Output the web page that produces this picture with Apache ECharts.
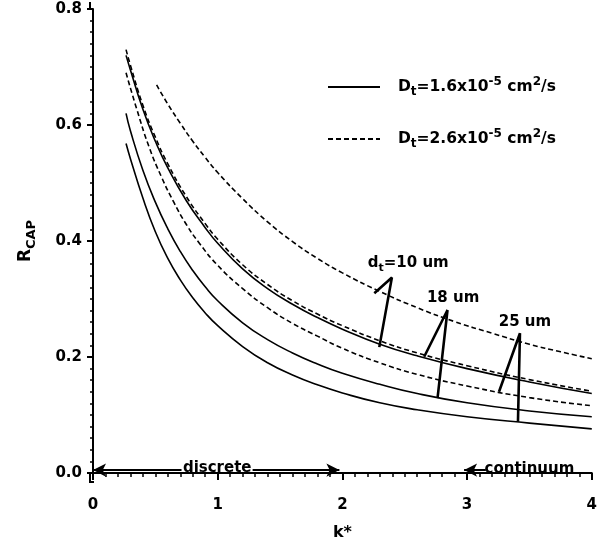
<!DOCTYPE html>
<html><head><meta charset="utf-8">
<script src="https://cdn.jsdelivr.net/npm/echarts@6/dist/echarts.min.js"></script>
<style>html,body{margin:0;padding:0;background:#fff}#c{width:600px;height:546px}</style>
</head><body><div id="c"></div>
<script>
// ---- data ----
const xTickLabels = ['0', '1', '2', '3', '4'];
const yTickLabels = ['0.0', '0.2', '0.4', '0.6', '0.8'];

const legendNames = ['Dt=1.6x10-5 cm2/s', 'Dt=2.6x10-5 cm2/s'];

// solid curves (Dt = 1.6e-5)
const solid10_k = [0.265, 0.3, 0.4, 0.5, 0.6, 0.75, 0.9, 1.0, 1.2, 1.4, 1.6, 1.8, 2.0, 2.3, 2.6, 3.0, 3.5, 4.0];
const solid10_r = [0.72, 0.695, 0.627, 0.572, 0.526, 0.469, 0.423, 0.396, 0.352, 0.318, 0.291, 0.268, 0.248, 0.222, 0.202, 0.18, 0.157, 0.137];
const solid18_k = [0.265, 0.3, 0.4, 0.5, 0.6, 0.7, 0.8, 0.9, 1.0, 1.2, 1.4, 1.6, 1.8, 2.0, 2.3, 2.6, 3.0, 3.5, 4.0];
const solid18_r = [0.62, 0.59, 0.522, 0.467, 0.421, 0.382, 0.349, 0.321, 0.297, 0.259, 0.23, 0.207, 0.188, 0.172, 0.153, 0.137, 0.121, 0.107, 0.097];
const solid25_k = [0.265, 0.3, 0.4, 0.5, 0.6, 0.7, 0.8, 0.9, 1.0, 1.2, 1.4, 1.6, 1.8, 2.0, 2.3, 2.6, 3.0, 3.5, 4.0];
const solid25_r = [0.568, 0.542, 0.474, 0.416, 0.37, 0.333, 0.302, 0.276, 0.254, 0.218, 0.19, 0.169, 0.152, 0.138, 0.121, 0.109, 0.097, 0.086, 0.076];

// dashed curves (Dt = 2.6e-5)
const dashed10_k = [0.51, 0.6, 0.7, 0.8, 0.9, 1.0, 1.2, 1.4, 1.6, 1.8, 2.0, 2.3, 2.6, 2.9, 3.2, 3.5, 3.75, 4.0];
const dashed10_r = [0.669, 0.636, 0.603, 0.572, 0.544, 0.518, 0.473, 0.433, 0.399, 0.37, 0.345, 0.313, 0.285, 0.261, 0.241, 0.222, 0.209, 0.197];
const dashed18_k = [0.265, 0.3, 0.4, 0.5, 0.6, 0.75, 0.9, 1.0, 1.2, 1.4, 1.6, 1.8, 2.0, 2.3, 2.6, 3.0, 3.5, 4.0];
const dashed18_r = [0.73, 0.703, 0.634, 0.579, 0.533, 0.476, 0.43, 0.403, 0.359, 0.325, 0.297, 0.274, 0.254, 0.228, 0.207, 0.185, 0.161, 0.141];
const dashed25_k = [0.265, 0.35, 0.45, 0.55, 0.65, 0.75, 0.85, 1.0, 1.2, 1.4, 1.6, 1.8, 2.0, 2.3, 2.6, 3.0, 3.5, 4.0];
const dashed25_r = [0.69, 0.628, 0.562, 0.51, 0.466, 0.428, 0.397, 0.358, 0.318, 0.285, 0.258, 0.236, 0.215, 0.19, 0.17, 0.15, 0.13, 0.116];

// annotation pointers (left branch end, apex, main end)
const arrow10_k = [2.256, 2.397, 2.296];
const arrow10_r = [0.31, 0.337, 0.217];
const arrow18_k = [2.656, 2.843, 2.763];
const arrow18_r = [0.2005, 0.281, 0.129];
const arrow25_k = [3.256, 3.424, 3.408];
const arrow25_r = [0.14, 0.241, 0.0885];

// annotation texts and their anchor (data units)
const annoText = ['dt=10 um', '18 um', '25 um', 'discrete', 'continuum'];
const annoK = [2.528, 2.888, 3.464, 0.996, 3.5];
const annoR = [0.362, 0.302, 0.261, 0.009, 0.007];

// regime arrows: tail -> head (k), at level regimeR
const regimeTail = [0.71, 1.28, 3.15, 3.86];
const regimeHead = [0.0, 1.976, 2.976, 4.04];
const regimeR = 0.005;

// ---- chart ----
const FONT = 'DejaVu Sans';
const pairs = (k, r) => k.map((x, i) => [x, r[i]]);
const chart = echarts.init(document.getElementById('c'), null, {renderer: 'canvas'});

function curve(name, k, r, dashed) {
  return {
    type: 'line', name: name, data: pairs(k, r), symbol: 'none',
    smooth: 0.5, silent: true,
    lineStyle: {color: '#000', width: 1.6, type: dashed ? [5, 3] : 'solid'},
    itemStyle: {color: '#000'}, z: 3
  };
}
function pointer(k, r) {
  return {
    type: 'line', data: pairs(k, r), symbol: 'none', silent: true,
    lineStyle: {color: '#000', width: 2.6}, z: 4
  };
}
const richText = {
  a: {fontFamily: FONT, fontWeight: 'bold', fontSize: 15.5, fill: '#000', color: '#000', lineHeight: 22},
  sub: {fontFamily: FONT, fontWeight: 'bold', fontSize: 12, fill: '#000', color: '#000', verticalAlign: 'bottom', lineHeight: 22},
  sup: {fontFamily: FONT, fontWeight: 'bold', fontSize: 12, fill: '#000', color: '#000', verticalAlign: 'top', lineHeight: 22},
  b: {fontFamily: FONT, fontWeight: 'bold', fontSize: 15, fill: '#000', color: '#000', lineHeight: 22},
  bs: {fontFamily: FONT, fontWeight: 'bold', fontSize: 11, fill: '#000', color: '#000', verticalAlign: 'bottom', lineHeight: 22}
};
function legendRich(name) {
  // "Dt=1.6x10-5 cm2/s" -> D_t = 1.6x10^-5 cm^2/s
  const m = name.match(/^D(t)=(.*x10)(-\d)( cm)(\d)(\/s)$/);
  return '{a|D}{sub|' + m[1] + '}{a|=' + m[2] + '}{sup|' + m[3] + '}{a|' + m[4] + '}{sup|' + m[5] + '}{a|' + m[6] + '}';
}
function annoRich(t) {
  const m = t.match(/^d(t)(=.*)$/);
  if (m) return '{b|d}{bs|' + m[1] + '}{b|' + m[2] + '}';
  return '{b|' + t + '}';
}

const regimeLines = regimeTail.map((t, i) => [{coord: [t, regimeR]}, {coord: [regimeHead[i], regimeR]}]);

const option = {
  animation: false,
  backgroundColor: '#fff',
  grid: {left: 93, right: 7, top: 9, bottom: 73, containLabel: false},
  legend: {
    orient: 'vertical', left: 322, top: 71,
    itemWidth: 52, itemHeight: 10, itemGap: 30,
    data: legendNames, selectedMode: false,
    formatter: legendRich,
    itemStyle: {color: 'rgba(0,0,0,0)', borderWidth: 0, opacity: 0},
    textStyle: {padding: [0, 0, 0, 13], rich: richText}
  },
  xAxis: {
    type: 'value', min: 0, max: 4, interval: 1, offset: 9,
    axisLine: {lineStyle: {color: '#000', width: 2}},
    axisTick: {length: 7, lineStyle: {color: '#000', width: 2}},
    minorTick: {show: true, splitNumber: 10, length: 4, lineStyle: {color: '#000', width: 1.5}},
    splitLine: {show: false},
    axisLabel: {margin: 16, color: '#000', fontFamily: FONT, fontWeight: 'bold', fontSize: 15,
      formatter: v => xTickLabels[Math.round(v)]},
    name: 'k*', nameLocation: 'middle', nameGap: 43,
    nameTextStyle: {color: '#000', fontFamily: FONT, fontWeight: 'bold', fontSize: 16}
  },
  yAxis: {
    type: 'value', min: 0, max: 0.8, interval: 0.2, offset: 3,
    axisLine: {lineStyle: {color: '#000', width: 2}},
    axisTick: {length: 6, lineStyle: {color: '#000', width: 2}},
    minorTick: {show: true, splitNumber: 10, length: 3, lineStyle: {color: '#000', width: 1.5}},
    splitLine: {show: false},
    axisLabel: {margin: 8, color: '#000', fontFamily: FONT, fontWeight: 'bold', fontSize: 15,
      formatter: v => yTickLabels[Math.round(v / 0.2)]},
    name: '{r|R}{s|CAP}', nameLocation: 'middle', nameRotate: 90, nameGap: 52,
    nameTextStyle: {rich: {
      r: {fontFamily: FONT, fontWeight: 'bold', fontSize: 17, color: '#000', lineHeight: 24},
      s: {fontFamily: FONT, fontWeight: 'bold', fontSize: 13, color: '#000', verticalAlign: 'bottom', lineHeight: 24}
    }}
  },
  series: [
    curve(legendNames[0], solid10_k, solid10_r, false),
    curve(legendNames[0], solid18_k, solid18_r, false),
    curve(legendNames[0], solid25_k, solid25_r, false),
    curve(legendNames[1], dashed10_k, dashed10_r, true),
    curve(legendNames[1], dashed18_k, dashed18_r, true),
    curve(legendNames[1], dashed25_k, dashed25_r, true),
    pointer(arrow10_k, arrow10_r),
    pointer(arrow18_k, arrow18_r),
    pointer(arrow25_k, arrow25_r),
    {
      type: 'line', data: [], symbol: 'none', silent: true, clip: false,
      markLine: {
        silent: true, symbol: ['none', 'arrow'], symbolSize: [10, 13], precision: 4,
        label: {show: false},
        lineStyle: {color: '#000', width: 2, type: 'solid'},
        emphasis: {disabled: true},
        data: regimeLines
      }
    }
  ]
};
chart.setOption(option);

// annotation texts placed through the axes' scales, plus the axis corner
const o = chart.convertToPixel({gridIndex: 0}, [0, 0]);
const tp = chart.convertToPixel({gridIndex: 0}, [0, 0.8]);
const graphics = annoText.map((t, i) => {
  const p = chart.convertToPixel({gridIndex: 0}, [annoK[i], annoR[i]]);
  return {
    type: 'text', silent: true, x: p[0], y: p[1], z: 10,
    style: {text: annoRich(t), rich: richText, align: 'center', verticalAlign: 'middle', fill: '#000'}
  };
});
graphics.push({
  type: 'polyline', silent: true,
  shape: {points: [[o[0] - 3, o[1] - 1], [o[0] - 3, o[1] + 9], [o[0] + 1, o[1] + 9]]},
  style: {stroke: '#000', lineWidth: 2, fill: null}
});
graphics.push({
  type: 'line', silent: true,
  shape: {x1: tp[0] - 3, y1: tp[1] + 1, x2: tp[0] - 3, y2: tp[1] - 7},
  style: {stroke: '#000', lineWidth: 2}
});
chart.setOption({graphic: graphics});
</script>
</body></html>
